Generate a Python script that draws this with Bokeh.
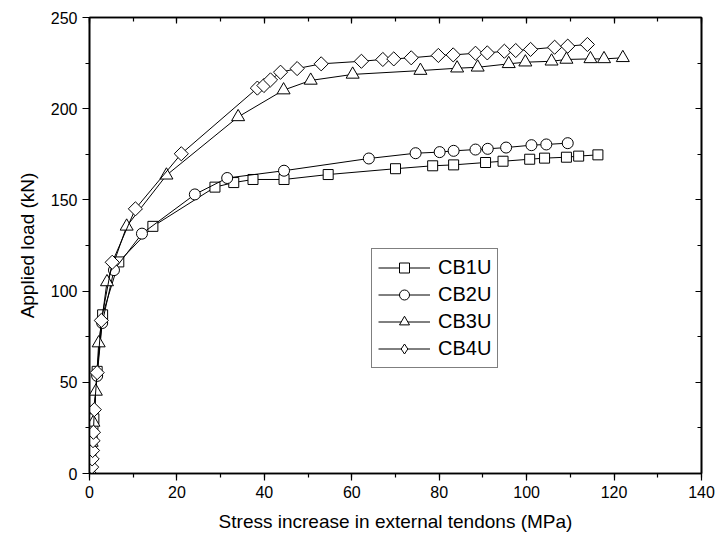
import numpy as np
from bokeh.plotting import figure
from bokeh.models import (Range1d, LinearAxis, SingleIntervalTicker, Legend,
                          LegendItem, CustomJSTickFormatter, ColumnDataSource)
from bokeh.embed import file_html
from bokeh.resources import INLINE

# ---------------- data ----------------
series_names = ["CB1U", "CB2U", "CB3U", "CB4U"]

cb1u_x = [0, 0.3, 0.6, 1.0, 1.75, 3.0, 6.7, 14.5, 28.7, 33.0, 37.4, 44.5, 54.6,
          70.0, 78.5, 83.3, 90.6, 94.6, 100.7, 104.1, 109.1, 111.9, 116.3]
cb1u_y = [0, 10, 20, 30, 56, 87, 116, 135.5, 157, 159.5, 161.2, 161.2, 163.9,
          167.1, 168.7, 169.2, 170.5, 171.2, 172.3, 172.9, 173.4, 174.0, 174.7]

cb2u_x = [0, 0.3, 0.7, 1.75, 2.9, 5.6, 12.0, 24.1, 31.5, 44.5, 63.9, 74.6, 80.1,
          83.3, 88.3, 91.1, 95.3, 101.1, 104.5, 109.4]
cb2u_y = [0, 12, 25, 53.5, 82.5, 111.5, 131.5, 153, 162, 166, 172.7, 175.6, 176.2,
          176.9, 177.6, 178.0, 178.7, 180.0, 180.4, 181.1]

cb3u_x = [0, 0.5, 0.9, 1.45, 2.1, 4.0, 8.5, 17.6, 34.0, 44.4, 50.6, 60.2, 75.7,
          84.1, 88.8, 95.9, 99.7, 105.7, 109.1, 114.6, 117.7, 122.0]
cb3u_y = [0, 17, 28, 45, 71.5, 105, 135.5, 163.5, 195.5, 210.2, 215.5, 218.8, 220.9,
          222.2, 222.7, 224.6, 225.5, 226.0, 227.0, 227.3, 227.3, 227.9]

cb4u_x = [0, 0.5, 0.6, 0.7, 0.8, 0.9, 1.1, 1.75, 2.7, 5.2, 10.5, 21.0,
          38.4, 39.9, 41.4, 43.7, 47.5, 53.0, 62.2, 67.1, 69.6, 73.6, 79.8, 83.2,
          88.3, 91.0, 94.9, 97.5, 100.9, 106.4, 109.4, 113.9]
cb4u_y = [0, 3.5, 8, 12.6, 18, 22.6, 35, 55.3, 83.9, 115.8, 145.1, 175.3,
          211.3, 212.7, 215.8, 220.0, 222.0, 224.6, 226.0, 227.0, 227.3, 227.9, 229.2, 229.5,
          230.4, 230.6, 231.5, 231.9, 232.5, 233.7, 234.3, 235.2]

x_range = (0, 140)
y_range = (0, 250)
x_tick_step = 20
y_tick_step = 50

x_label = "Stress increase in external tendons (MPa)"
y_label = "Applied load (kN)"

FONT = "Liberation Sans"

# ---------------- figure ----------------
p = figure(width=720, height=547, output_backend="svg", toolbar_location=None,
           x_range=Range1d(*x_range), y_range=Range1d(*y_range),
           min_border_left=89, min_border_right=19, min_border_top=17,
           min_border_bottom=74, background_fill_color="white",
           border_fill_color="white")
p.grid.visible = False
p.outline_line_color = "black"
p.outline_line_width = 1.6

xt = SingleIntervalTicker(interval=x_tick_step, num_minor_ticks=2)
yt = SingleIntervalTicker(interval=y_tick_step, num_minor_ticks=2)

for ax, tk in ((p.xaxis[0], xt), (p.yaxis[0], yt)):
    ax.ticker = tk
    ax.axis_line_width = 1.6
    ax.major_tick_out = 7
    ax.major_tick_in = 0
    ax.minor_tick_out = 4
    ax.minor_tick_in = 0
    ax.major_tick_line_width = 1.2
    ax.minor_tick_line_width = 1.2
    ax.major_label_text_font = FONT
    ax.major_label_text_font_size = "16px"
    ax.major_label_text_color = "black"
    ax.axis_label_text_font = FONT
    ax.axis_label_text_font_size = "19px"
    ax.axis_label_text_font_style = "normal"
    ax.axis_label_text_color = "black"
    ax.major_label_standoff = 5

p.xaxis[0].axis_label = x_label
p.yaxis[0].axis_label = y_label
p.xaxis[0].axis_label_standoff = 10
p.yaxis[0].axis_label_standoff = 10

blank = CustomJSTickFormatter(code="return ''")
for loc, tk in (("right", SingleIntervalTicker(interval=y_tick_step, num_minor_ticks=2)),
                ("above", SingleIntervalTicker(interval=x_tick_step, num_minor_ticks=2))):
    ax = LinearAxis(ticker=tk, formatter=blank, axis_line_width=1.6,
                    major_tick_in=6, major_tick_out=0, minor_tick_in=4,
                    minor_tick_out=0, major_label_standoff=0,
                    major_tick_line_width=1.2, minor_tick_line_width=1.2,
                    major_label_text_font_size="1px")
    p.add_layout(ax, loc)

# ---------------- series ----------------
data = [(cb1u_x, cb1u_y, "square", 10, 0.0, "square"),
        (cb2u_x, cb2u_y, "circle", 11, 0.0, "circle"),
        (cb3u_x, cb3u_y, "triangle", 13, 0.0, "triangle"),
        (cb4u_x, cb4u_y, "square", 10, np.pi / 4, "diamond")]

items = []
for name, (xs, ys, mk, sz, ang, legend_mk) in zip(series_names, data):
    lr = p.line(xs, ys, line_color="black", line_width=1)
    sr = p.scatter(xs, ys, marker=mk, size=sz, angle=ang, line_color="black",
                   line_width=1, fill_color="white")
    if legend_mk != mk:
        # legend-only glyph (a single NaN point, never drawn in the plot)
        sr = p.scatter(x="x", y="y",
                       source=ColumnDataSource(dict(x=[np.nan], y=[np.nan])),
                       marker=legend_mk, size=sz, line_color="black",
                       line_width=1, fill_color="white")
    items.append(LegendItem(label=name, renderers=[lr, sr]))

legend = Legend(items=items, location=(282, 105), orientation="vertical",
                glyph_width=52, glyph_height=25, label_height=25,
                label_standoff=8, spacing=2, padding=6, margin=0,
                label_text_font=FONT, label_text_font_size="20px",
                label_text_color="black", border_line_color="black",
                border_line_width=1, background_fill_color="white",
                background_fill_alpha=1)
p.add_layout(legend, "center")

open("out.html", "w").write(file_html(p, INLINE))
